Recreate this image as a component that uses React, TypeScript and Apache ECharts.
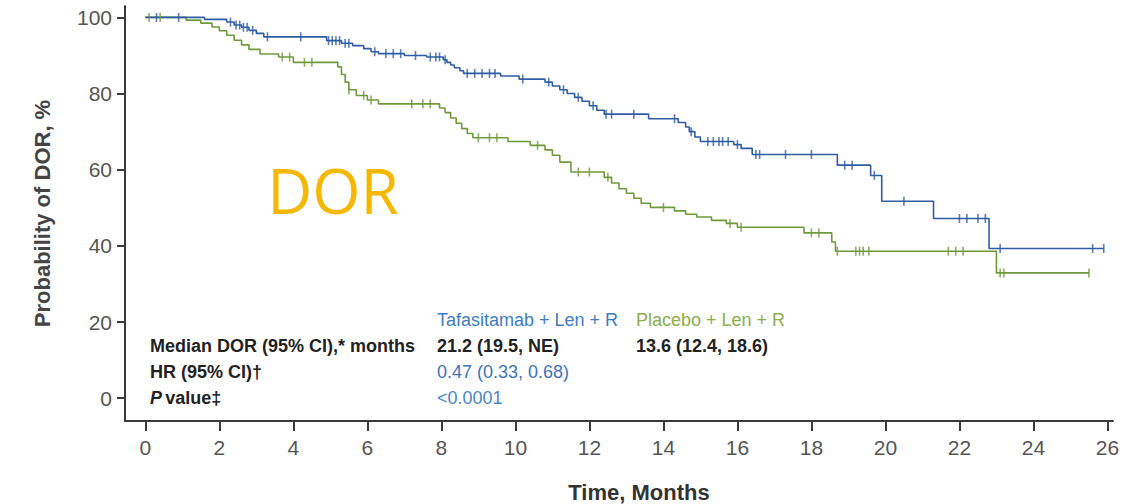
import React, { useEffect, useRef } from "react";
import * as echarts from "echarts";

// Kaplan-Meier step data: [time in months, survival %] after each event
const tafasitamab: [number, number][] = [
  [0, 100], [1.6, 99.5], [2.2, 98.8], [2.4, 98.0], [2.6, 97.4], [2.8, 96.6], [3.0, 95.8], [3.2, 94.9],
  [4.9, 93.9], [5.3, 93.2], [5.6, 92.6], [5.9, 91.8], [6.1, 91.0], [6.3, 90.5], [7.0, 90.0], [7.6, 89.6],
  [8.05, 88.9], [8.15, 88.2], [8.25, 87.5], [8.35, 86.8], [8.5, 86.0], [8.6, 85.3],
  [9.6, 84.6], [10.1, 83.8], [10.8, 83.0], [11.0, 82.0], [11.2, 81.0], [11.4, 80.0],
  [11.6, 79.0], [11.8, 78.0], [12.0, 76.8], [12.2, 75.6], [12.4, 74.6], [13.6, 73.4],
  [14.4, 72.4], [14.6, 71.2], [14.7, 70.0], [14.85, 68.6], [15.0, 67.4],
  [15.9, 66.6], [16.1, 65.6], [16.4, 64.0], [18.7, 61.2], [19.6, 58.5], [19.9, 51.7],
  [21.3, 47.2], [22.8, 39.3], [25.9, 39.3],
];
const placebo: [number, number][] = [
  [0, 100], [1.1, 99.3], [1.5, 98.5], [1.8, 97.5], [2.0, 96.5], [2.2, 95.3], [2.4, 94.0], [2.6, 92.8],
  [2.8, 91.6], [3.1, 90.4], [3.6, 89.6], [4.0, 88.2], [5.2, 87.0], [5.3, 85.0], [5.4, 83.0], [5.5, 81.0],
  [5.7, 79.5], [6.0, 78.3], [6.3, 77.3], [7.95, 76.2], [8.1, 75.0], [8.25, 73.6], [8.4, 72.2],
  [8.55, 70.8], [8.7, 69.5], [8.85, 68.4], [9.8, 67.4], [10.4, 66.4], [10.8, 65.2], [11.0, 63.8],
  [11.2, 62.0], [11.5, 59.4], [12.4, 58.0], [12.6, 56.5], [12.8, 55.0], [13.0, 53.8], [13.2, 52.5],
  [13.4, 51.2], [13.65, 50.1], [14.3, 49.2], [14.6, 48.3], [14.9, 47.6], [15.3, 46.7], [15.7, 45.9],
  [16.0, 44.9], [17.8, 43.4], [18.55, 41.0], [18.65, 38.6], [23.0, 32.9], [25.5, 32.9],
];
const tafasitamabCensored = [
  0.3, 0.9, 2.3, 2.45, 2.55, 2.65, 2.75, 2.9, 3.3, 4.2, 4.95, 5.05, 5.15, 5.25, 5.4, 5.5, 6.2, 6.5, 6.7, 6.9,
  7.3, 7.7, 7.85, 7.95, 8.1, 8.7, 8.9, 9.1, 9.3, 9.45, 10.2, 10.9, 11.3, 11.7, 12.1, 12.45, 12.6, 13.2,
  14.3, 14.75, 15.2, 15.35, 15.5, 15.6, 15.75, 16.0, 16.5, 16.6, 17.3, 18.0, 18.9, 19.1, 19.7, 20.5,
  22.0, 22.2, 22.5, 22.7, 23.1, 25.6, 25.9,
];
const placeboCensored = [
  0.1, 0.4, 3.7, 3.9, 4.3, 4.5, 5.5, 5.9, 6.1, 7.2, 7.5, 7.7, 9.0, 9.3, 9.5, 10.6, 11.7, 12.0, 12.5, 14.0,
  15.8, 16.1, 18.0, 18.2, 18.7, 19.2, 19.3, 19.4, 19.55, 21.7, 21.9, 22.1, 23.1, 23.2, 25.5,
];
const xTicks = [0, 2, 4, 6, 8, 10, 12, 14, 16, 18, 20, 22, 24, 26];
const yTicks = [0, 20, 40, 60, 80, 100];

const tableLabels = ["Median DOR (95% CI),* months", "HR (95% CI)\u2020", "P value\u2021"];
const armNames = ["Tafasitamab + Len + R", "Placebo + Len + R"];
const medians = ["21.2 (19.5, NE)", "13.6 (12.4, 18.6)"];
const hrText = "0.47 (0.33, 0.68)";
const pText = "<0.0001";

const BLUE = "#2f5ca4";
const GREEN = "#6f9a3c";
const FONT = "'Liberation Sans', Arial, sans-serif";

function survivalAt(curve: [number, number][], t: number): number {
  let s = curve[0][1];
  for (const [ti, si] of curve) {
    if (ti <= t) s = si;
    else break;
  }
  return s;
}

export default function App() {
  const ref = useRef<HTMLDivElement>(null);
  useEffect(() => {
    document.body.style.margin = "0";
    if (!ref.current) return;
    const chart = echarts.init(ref.current, null, { renderer: "svg" });
    const rowY = [320, 346, 372, 398];
    const colX = [150, 437, 636];
    const tStyle = (text: string, x: number, y: number, fill: string, bold: boolean, extra: any = {}) => ({
      type: "text",
      x,
      y,
      style: { text, fill, fontSize: 18, fontWeight: bold ? "bold" : "normal", fontFamily: FONT, textVerticalAlign: "middle", verticalAlign: "middle", ...extra },
    });
    const option: any = {
      animation: false,
      backgroundColor: "#ffffff",
      grid: { left: 125, right: 14, top: 6, bottom: 83 },
      xAxis: {
        type: "value",
        min: -0.55,
        max: 26.15,
        splitLine: { show: false },
        axisLine: { show: true, onZero: false, lineStyle: { color: "#3a3a3a", width: 2 } },
        axisTick: { show: true, customValues: xTicks, length: 10, lineStyle: { color: "#3a3a3a", width: 2 } },
        axisLabel: { customValues: xTicks, fontSize: 21, color: "#555", margin: 16, fontFamily: FONT },
      },
      yAxis: {
        type: "value",
        min: -6,
        max: 103,
        splitLine: { show: false },
        axisLine: { show: true, onZero: false, lineStyle: { color: "#3a3a3a", width: 2 } },
        axisTick: { show: true, customValues: yTicks, length: 8, lineStyle: { color: "#3a3a3a", width: 2 } },
        axisLabel: { customValues: yTicks, fontSize: 21, color: "#555", margin: 13, fontFamily: FONT },
        name: "Probability of DOR, %",
        nameLocation: "middle",
        nameGap: 72,
        nameTextStyle: { fontSize: 22, fontWeight: "bold", color: "#444", fontFamily: FONT },
      },
      series: [
        {
          type: "line",
          step: "end",
          data: tafasitamab,
          showSymbol: false,
          lineStyle: { color: BLUE, width: 1.6 },
          itemStyle: { color: BLUE },
          z: 3,
        },
        {
          type: "line",
          step: "end",
          data: placebo,
          showSymbol: false,
          lineStyle: { color: GREEN, width: 1.6 },
          itemStyle: { color: GREEN },
          z: 2,
        },
        {
          type: "scatter",
          data: tafasitamabCensored.map((t) => [t, survivalAt(tafasitamab, t)]),
          symbol: "rect",
          symbolSize: [1.6, 9],
          itemStyle: { color: BLUE },
          z: 4,
        },
        {
          type: "scatter",
          data: placeboCensored.map((t) => [t, survivalAt(placebo, t)]),
          symbol: "rect",
          symbolSize: [1.6, 9],
          itemStyle: { color: GREEN },
          z: 3,
        },
      ],
      graphic: [
        {
          type: "text",
          x: 333,
          y: 190,
          style: { text: "DOR", fill: "#f5b800", fontSize: 62, fontFamily: "'Open Sans', sans-serif", align: "center", verticalAlign: "middle" },
        },
        {
          type: "text",
          x: 639,
          y: 492,
          style: { text: "Time, Months", fill: "#333", fontSize: 22, fontWeight: "bold", fontFamily: FONT, align: "center", verticalAlign: "middle" },
        },
        tStyle(armNames[0], colX[1], rowY[0], "#3d7cc2", false),
        tStyle(armNames[1], colX[2], rowY[0], "#8aaf4c", false),
        tStyle(tableLabels[0], colX[0], rowY[1], "#222", true),
        tStyle(medians[0], colX[1], rowY[1], "#222", true),
        tStyle(medians[1], colX[2], rowY[1], "#222", true),
        tStyle(tableLabels[1], colX[0], rowY[2], "#222", true),
        tStyle(hrText, colX[1], rowY[2], "#3d74b8", false),
        {
          type: "text",
          x: colX[0],
          y: rowY[3],
          style: {
            text: "{i|P} {n|value\u2021}",
            verticalAlign: "middle",
            rich: {
              i: { fontSize: 18, fontStyle: "italic", fontWeight: "bold", fill: "#222", fontFamily: FONT },
              n: { fontSize: 18, fontWeight: "bold", fill: "#222", fontFamily: FONT },
            },
          },
        },
        tStyle(pText, colX[1], rowY[3], "#4a86c8", false),
      ],
    };
    chart.setOption(option);
    return () => chart.dispose();
  }, []);
  return <div ref={ref} style={{ width: 1127, height: 504 }} />;
}
